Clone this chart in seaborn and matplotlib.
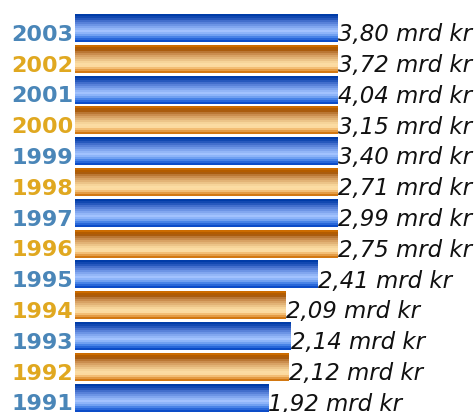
import numpy as np
import pandas as pd
import seaborn as sns
import matplotlib.pyplot as plt
from matplotlib.colors import LinearSegmentedColormap

years = ['2003', '2002', '2001', '2000', '1999', '1998', '1997',
         '1996', '1995', '1994', '1993', '1992', '1991']
values = [3.80, 3.72, 4.04, 3.15, 3.40, 2.71, 2.99,
          2.75, 2.41, 2.09, 2.14, 2.12, 1.92]
labels = ['3,80 mrd kr', '3,72 mrd kr', '4,04 mrd kr', '3,15 mrd kr',
          '3,40 mrd kr', '2,71 mrd kr', '2,99 mrd kr', '2,75 mrd kr',
          '2,41 mrd kr', '2,09 mrd kr', '2,14 mrd kr', '2,12 mrd kr',
          '1,92 mrd kr']

df = pd.DataFrame({'year': years, 'value': values})

year_colors = ['#4a86b8' if i % 2 == 0 else '#e0a820' for i in range(len(years))]

# stripe gradients (top -> bottom of each bar)
blue_cm = LinearSegmentedColormap.from_list(
    'blu', ['#003ca8', '#1c50b8', '#4a74d0', '#6a92e4', '#8cb0f4',
            '#a4c4ff', '#7aa8f4', '#3a78e4', '#0c4cc8'], N=14)
orange_cm = LinearSegmentedColormap.from_list(
    'org', ['#cc6c00', '#a45200', '#bf7e3e', '#d7a062', '#e8bc80',
            '#f8d69c', '#ffe2aa', '#f0b466', '#d27812'], N=14)

sns.set_style('white')
fig = plt.figure(figsize=(4.77, 4.12), dpi=100)
ax = fig.add_axes([75 / 477, 0, 263 / 477, 1])

sns.barplot(data=df, x='value', y='year', hue='year', palette=year_colors,
            legend=False, orient='h', width=0.88, ax=ax)

xmax = 2.61
grad = np.linspace(0, 1, 200).reshape(-1, 1)
for i, p in enumerate(ax.patches):
    cm = blue_cm if i % 2 == 0 else orange_cm
    x0, y0 = p.get_x(), p.get_y()
    w, h = p.get_width(), p.get_height()
    ax.imshow(grad, cmap=cm, aspect='auto', interpolation='nearest',
              extent=[x0, x0 + w, y0 + h, y0], zorder=3)
ax.set_xlim(0, xmax)
ax.set_ylim(12.45, -0.925)

for i, (yr, v, lab) in enumerate(zip(years, values, labels)):
    ax.annotate(yr, xy=(0, i), xytext=(-1, -4.5), textcoords='offset points',
                ha='right', va='center', fontsize=16, fontweight='bold',
                color=year_colors[i], annotation_clip=False)
    ax.annotate(lab, xy=(min(v, xmax), i), xytext=(0, -4.5), textcoords='offset points',
                ha='left', va='center', fontsize=16.5, style='italic',
                color='#111111', annotation_clip=False)

ax.set_xlabel('')
ax.set_ylabel('')
ax.set_xticks([])
ax.set_yticks([])
for s in ax.spines.values():
    s.set_visible(False)

fig.savefig('out.png', dpi=100)
